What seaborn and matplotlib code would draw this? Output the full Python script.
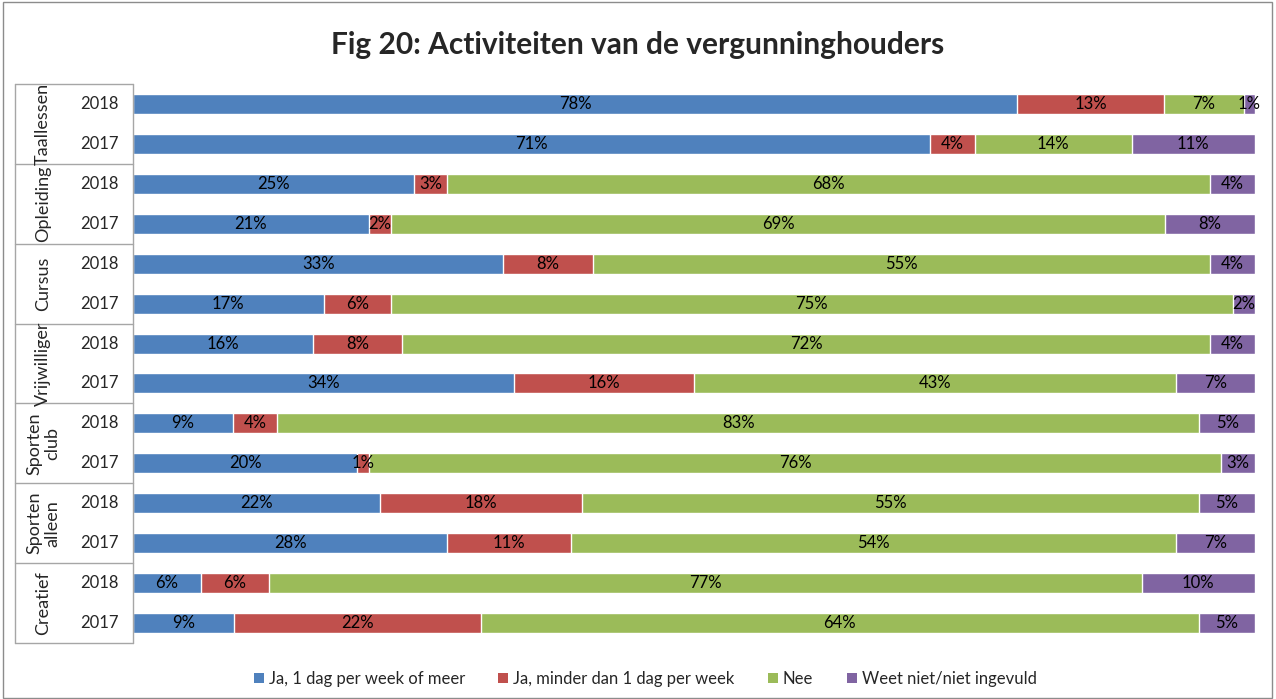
import matplotlib
matplotlib.use('Agg')
import matplotlib.pyplot as plt
import matplotlib.transforms as mtransforms
from matplotlib.patches import Rectangle, Patch
import pandas as pd
import seaborn as sns

# --- data ---
groups = ['Taallessen', 'Opleiding', 'Cursus', 'Vrijwilliger',
          'Sporten\nclub', 'Sporten\nalleen', 'Creatief']
years = ['2018', '2017']
series = ['Ja, 1 dag per week of meer', 'Ja, minder dan 1 dag per week',
          'Nee', 'Weet niet/niet ingevuld']
colors = ['#4F81BD', '#C0504D', '#9BBB59', '#8064A2']

ja_vaak = [78, 71, 25, 21, 33, 17, 16, 34, 9, 20, 22, 28, 6, 9]
ja_minder = [13, 4, 3, 2, 8, 6, 8, 16, 4, 1, 18, 11, 6, 22]
nee = [7, 14, 68, 69, 55, 75, 72, 43, 83, 76, 55, 54, 77, 64]
weet_niet = [1, 11, 4, 8, 4, 2, 4, 7, 5, 3, 5, 7, 10, 5]

rows = [f'{g} {y}' for g in groups for y in years]
df = pd.DataFrame({series[0]: ja_vaak, series[1]: ja_minder,
                   series[2]: nee, series[3]: weet_niet}, index=rows)
# 100% stacked: normalise each row
share = df.div(df.sum(axis=1), axis=0) * 100
cum = share.cumsum(axis=1)

sns.set_theme(style='white')
plt.rcParams['font.family'] = ['Lato', 'DejaVu Sans']

fig = plt.figure(figsize=(12.76, 6.99), dpi=100)
ax = fig.add_axes([133 / 1276, 1 - 643 / 699, 1122 / 1276, 559 / 699])

# draw from the full stack down so each layer covers the previous one
for i in reversed(range(len(series))):
    plot_df = pd.DataFrame({'row': rows, 'val': cum.iloc[:, i].values})
    sns.barplot(data=plot_df, x='val', y='row', orient='h', color=colors[i],
                width=0.5, saturation=1, ax=ax)

# value labels in the middle of each segment
for r, row in enumerate(rows):
    left = 0
    for i, s in enumerate(series):
        w = share.loc[row, s]
        ax.text(left + w / 2, r, f'{df.loc[row, s]}%', ha='center', va='center',
                fontsize=12, color='black')
        left += w

ax.set_xlim(0, 100)
ax.set_ylim(len(rows) - 0.5, -0.5)
ax.set_xticks([])
ax.set_yticks([])
ax.set_xlabel('')
ax.set_ylabel('')
for sp in ax.spines.values():
    sp.set_visible(False)

# two-level category axis with boxes
trans = mtransforms.blended_transform_factory(ax.transAxes, ax.transData)
x_box = -118 / 1122
line_kw = dict(color='#A6A6A6', lw=1, transform=trans, clip_on=False)
for g, name in enumerate(groups):
    top = 2 * g - 0.5
    ax.plot([x_box, 0], [top, top], **line_kw)
    ax.text(-90 / 1122, 2 * g + 0.5, name, rotation=90, ha='center',
            va='center', fontsize=13, linespacing=1.15, transform=trans)
    for k, y in enumerate(years):
        ax.text(-34 / 1122, 2 * g + k, y, ha='center', va='center',
                fontsize=12, transform=trans)
ax.plot([x_box, 0], [len(rows) - 0.5, len(rows) - 0.5], **line_kw)
ax.plot([x_box, x_box], [-0.5, len(rows) - 0.5], **line_kw)
ax.plot([0, 0], [-0.5, len(rows) - 0.5], **line_kw)

fig.text(0.5, 1 - 45 / 699, 'Fig 20: Activiteiten van de vergunninghouders',
         ha='center', va='center', fontsize=21.5, fontweight='bold')

handles = [Patch(facecolor=c, edgecolor='none') for c in colors]
fig.legend(handles, series, loc='center', bbox_to_anchor=(645 / 1276, 1 - 679 / 699),
           ncol=4, frameon=False, fontsize=12, handlelength=0.6, handleheight=0.6,
           handletextpad=0.3, columnspacing=2.0)

fig.patches.append(Rectangle((0.002, 0.002), 0.995, 0.995, transform=fig.transFigure,
                             fill=False, edgecolor='#8C8C8C', lw=1))

fig.savefig('out.png', dpi=100)
